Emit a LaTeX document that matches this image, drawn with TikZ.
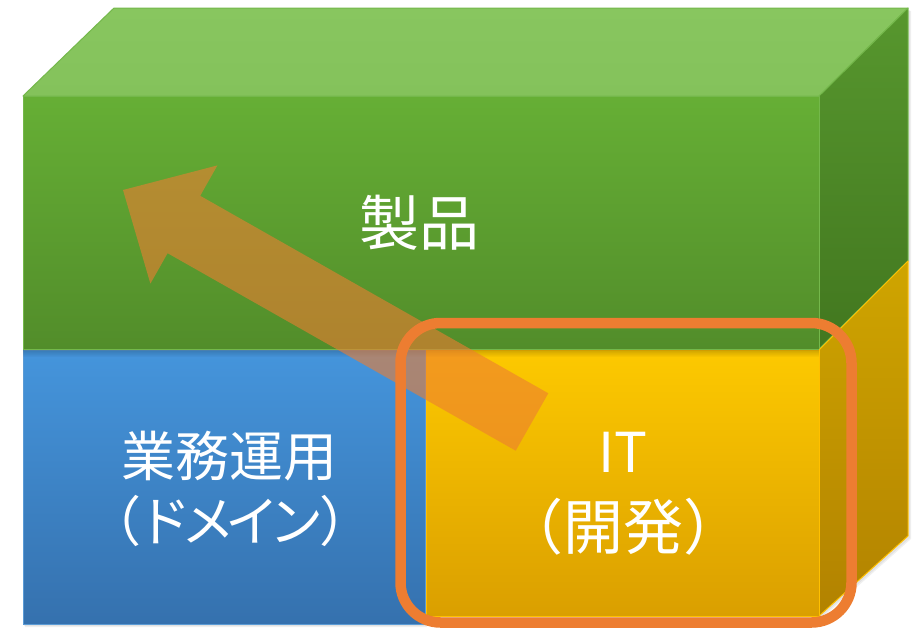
\documentclass[tikz,border=0pt]{standalone}
\usepackage{fontspec}
\newfontfamily\jp{Noto Sans CJK JP}
\usetikzlibrary{fadings}
\definecolor{topA}{HTML}{88C65F}
\definecolor{topB}{HTML}{84C25B}
\definecolor{grnA}{HTML}{66AF35}
\definecolor{grnB}{HTML}{528D2A}
\definecolor{grsA}{HTML}{57972E}
\definecolor{grsB}{HTML}{42771F}
\definecolor{grnEdge}{HTML}{74B84B}
\definecolor{bluA}{HTML}{4595DC}
\definecolor{bluB}{HTML}{3571AE}
\definecolor{bluEdge}{HTML}{5B9BD5}
\definecolor{yelA}{HTML}{FDC900}
\definecolor{yelB}{HTML}{DA9F00}
\definecolor{yesA}{HTML}{CFA500}
\definecolor{yesB}{HTML}{B28200}
\definecolor{yelEdge}{HTML}{FFC000}
\definecolor{accent}{HTML}{ED7D31}
\tikzset{
  face/.style={line width=1pt, line join=round},
  label/.style={text=white, font=\jp\fontsize{54}{64}\selectfont, align=center, inner sep=0pt},
}
\begin{document}
\begin{tikzpicture}[x=1pt,y=-1pt]
\useasboundingbox (0,0) rectangle (920,629);
% soft shadow
\fill[black, opacity=0.06] (25,99) -- (116,11) -- (911,11) -- (911,539) -- (821,619) -- (427,619) -- (427,627) -- (25,627) -- cycle;
\fill[black, opacity=0.06] (24,98) -- (115,10) -- (910,10) -- (910,538) -- (820,618) -- (426,618) -- (426,626) -- (24,626) -- cycle;
% green block: top, side, front
\path[face, draw=grnEdge, top color=topA, bottom color=topB] (23,96) -- (114,8) -- (908,8) -- (819,96) -- cycle;
\path[face, draw=grnEdge, top color=grsA, bottom color=grsB] (819,96) -- (908,8) -- (908,261) -- (819,349) -- cycle;
\path[face, draw=grnEdge, top color=grnA, bottom color=grnB] (23,96) rectangle (819,349);
% yellow side
\path[face, draw=yelEdge, top color=yesA, bottom color=yesB] (819,350) -- (908,261) -- (908,536) -- (819,616) -- cycle;
% blue front
\path[face, draw=bluEdge, top color=bluA, bottom color=bluB] (23,350) rectangle (425,624);
% yellow front
\path[face, draw=yelEdge, top color=yelA, bottom color=yelB] (426,350) rectangle (819,616);
% shadow under green block
\fill[black, opacity=0.18, path fading=south] (23,350) rectangle (819,357);
\draw[grnEdge, line width=1.2pt] (23,349.5) -- (819,349.5);
% arrow
\coordinate (tail1) at (548.3,393.3);
\coordinate (tail2) at (515.7,450.7);
\coordinate (base1) at (200.2,195.8);
\coordinate (base2) at (167.6,253.2);
\coordinate (barb1) at (217.4,165.4);
\coordinate (barb2) at (150.4,283.6);
\coordinate (tip) at (123,190);
\fill[accent, opacity=0.6] (tail1) -- (base1) -- (barb1) -- (tip) -- (barb2) -- (base2) -- (tail2) -- cycle;
% texts
\node[label, font=\jp\fontsize{60}{64}\selectfont] (product) at (419,223) {製品};
\node[label] (domain1) at (229,456) {業務運用};
\node[label] (domain2) at (230,521) {（\kern-4pt ド\kern-10pt メ\kern-10pt イ\kern-10pt ン\kern-4pt ）};
\node[label, font=\jp\fontsize{55}{64}\selectfont] (it1) at (623,452) {IT};
\node[label, font=\jp\fontsize{60}{64}\selectfont] (it2) at (623,527) {（開発）};
% highlight frame
\draw[accent, line width=10.5pt, rounded corners=40pt] (400.5,323) rectangle (851.5,622.5);
\end{tikzpicture}
\end{document}
